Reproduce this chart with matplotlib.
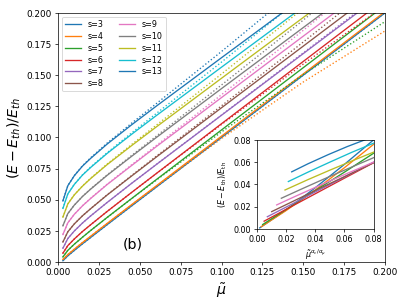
import numpy as np
import matplotlib
matplotlib.use("Agg")
import matplotlib.pyplot as plt

# s values shown in the legend
s_vals = [3, 4, 5, 6, 7, 8, 9, 10, 11, 12, 13]

# mu grid shared by all main-panel curves
mu = [0.003, 0.006, 0.01, 0.015, 0.02, 0.03, 0.045, 0.06, 0.1, 0.15, 0.2]

# solid curves (E-Eth)/Eth
y3 = [0.0010, 0.0049, 0.0093, 0.0146, 0.0197, 0.0299, 0.0450, 0.0600, 0.1000, 0.1500, 0.2000]
y4 = [0.0020, 0.0059, 0.0103, 0.0156, 0.0207, 0.0309, 0.0460, 0.0610, 0.1010, 0.1510, 0.2010]
y5 = [0.0040, 0.0093, 0.0143, 0.0199, 0.0253, 0.0357, 0.0509, 0.0660, 0.1060, 0.1560, 0.2060]
y6 = [0.0070, 0.0131, 0.0185, 0.0245, 0.0299, 0.0405, 0.0558, 0.0709, 0.1110, 0.1610, 0.2110]
y7 = [0.0110, 0.0188, 0.0249, 0.0313, 0.0370, 0.0477, 0.0631, 0.0781, 0.1178, 0.1673, 0.2168]
y8 = [0.0160, 0.0242, 0.0306, 0.0371, 0.0428, 0.0537, 0.0690, 0.0841, 0.1238, 0.1733, 0.2228]
y9 = [0.0220, 0.0314, 0.0383, 0.0451, 0.0510, 0.0621, 0.0774, 0.0925, 0.1320, 0.1813, 0.2305]
y10 = [0.0290, 0.0388, 0.0457, 0.0526, 0.0585, 0.0695, 0.0848, 0.0998, 0.1392, 0.1882, 0.2372]
y11 = [0.0360, 0.0466, 0.0539, 0.0609, 0.0670, 0.0781, 0.0934, 0.1083, 0.1475, 0.1963, 0.2450]
y12 = [0.0430, 0.0546, 0.0623, 0.0698, 0.0759, 0.0871, 0.1025, 0.1174, 0.1564, 0.2049, 0.2534]
y13 = [0.0490, 0.0612, 0.0693, 0.0770, 0.0832, 0.0946, 0.1101, 0.1250, 0.1640, 0.2125, 0.2610]
solid = [y3, y4, y5, y6, y7, y8, y9, y10, y11, y12, y13]

# gap between dotted (approximate) and solid curves
g3 = [0, 0, 0, 0, 0, 0, 0, 0, 0, 0, 0]
g4 = [0, 0, 0, 0, 0, -0.0001, -0.0002, -0.0004, -0.0019, -0.0065, -0.0155]
g5 = [0, 0, 0, 0, 0, -0.0001, -0.0001, -0.0004, -0.0016, -0.0055, -0.0130]
g6 = [0, 0, 0, 0, 0, 0, 0, -0.0001, -0.0006, -0.0021, -0.0050]
g7 = [0, 0, 0, 0, 0, 0, 0, 0.0001, 0.0002, 0.0006, 0.0013]
g8 = [0, 0, 0, 0, 0, 0.0002, 0.0004, 0.0007, 0.0016, 0.0033, 0.0059]
g9 = [0, 0, 0, 0.0001, 0.0002, 0.0003, 0.0006, 0.0009, 0.0023, 0.0047, 0.0083]
g10 = [0, 0, 0, 0.0001, 0.0002, 0.0004, 0.0007, 0.0011, 0.0029, 0.0060, 0.0107]
g11 = [0, 0, 0.0001, 0.0002, 0.0003, 0.0005, 0.0009, 0.0014, 0.0034, 0.0073, 0.0130]
g12 = [0, 0, 0.0001, 0.0002, 0.0004, 0.0006, 0.0011, 0.0017, 0.0041, 0.0086, 0.0154]
g13 = [0, 0, 0.0001, 0.0003, 0.0005, 0.0008, 0.0013, 0.0020, 0.0050, 0.0106, 0.0190]
gaps = [g3, g4, g5, g6, g7, g8, g9, g10, g11, g12, g13]

# inset: curves against mu^(alpha_c/alpha_mu)
ix3 = [0.002, 0.02, 0.04, 0.06, 0.08]
iy3 = [0.001, 0.017, 0.037, 0.058, 0.080]
ix4 = [0.003, 0.02, 0.04, 0.06, 0.08]
iy4 = [0.002, 0.0165, 0.035, 0.055, 0.076]
ix5 = [0.004, 0.02, 0.04, 0.06, 0.08]
iy5 = [0.004, 0.0175, 0.0345, 0.051, 0.068]
ix6 = [0.005, 0.02, 0.04, 0.06, 0.08]
iy6 = [0.007, 0.0176, 0.0316, 0.0456, 0.0595]
ix7 = [0.0072, 0.02, 0.04, 0.06, 0.08]
iy7 = [0.011, 0.0196, 0.0332, 0.0466, 0.060]
ix8 = [0.0102, 0.02, 0.04, 0.06, 0.08]
iy8 = [0.0156, 0.0218, 0.0345, 0.047, 0.0595]
ix9 = [0.0136, 0.025, 0.04, 0.06, 0.08]
iy9 = [0.0216, 0.0285, 0.0373, 0.0488, 0.060]
ix10 = [0.0168, 0.03, 0.045, 0.06, 0.08]
iy10 = [0.0276, 0.0355, 0.0443, 0.0528, 0.064]
ix11 = [0.0193, 0.035, 0.05, 0.065, 0.08]
iy11 = [0.035, 0.0443, 0.0528, 0.061, 0.069]
ix12 = [0.0216, 0.035, 0.05, 0.065, 0.08]
iy12 = [0.0426, 0.051, 0.060, 0.0688, 0.077]
ix13 = [0.0239, 0.035, 0.049, 0.062, 0.08]
iy13 = [0.0513, 0.0585, 0.0668, 0.074, 0.083]
inset_x = [ix3, ix4, ix5, ix6, ix7, ix8, ix9, ix10, ix11, ix12, ix13]
inset_y = [iy3, iy4, iy5, iy6, iy7, iy8, iy9, iy10, iy11, iy12, iy13]

colors = ['C0', 'C1', 'C2', 'C3', 'C4', 'C5', 'C6', 'C7', 'C8', 'C9', 'C0']

fig = plt.figure(figsize=(6.4, 4.8), dpi=407 / 6.4)
ax = fig.add_axes([0.1425, 0.141, 0.8035, 0.816])

mu_arr = np.array(mu)
for s, ys, gs, c in zip(s_vals, solid, gaps, colors):
    ax.plot(mu_arr, ys, '-', color=c, label='s=%d' % s)
    ax.plot(mu_arr, np.array(ys) + np.array(gs), ':', color=c)

ax.set_xlim(0, 0.2)
ax.set_ylim(0, 0.2)
ticks = np.arange(0, 0.2001, 0.025)
ax.set_xticks(ticks)
ax.set_yticks(ticks)
ax.set_xticklabels(['%.3f' % t for t in ticks])
ax.set_yticklabels(['%.3f' % t for t in ticks])
ax.set_xlabel(r'$\tilde{\mu}$', fontsize=16)
ax.set_ylabel(r'$(E-E_{th})/E_{th}$', fontsize=16)
ax.text(0.046, 0.014, '(b)', fontsize=16, ha='center', va='center')
ax.legend(loc='upper left', ncol=2, fontsize=9, labelspacing=0.35)

axin = fig.add_axes([0.631, 0.249, 0.287, 0.292])
for xs, ys, c in zip(inset_x, inset_y, colors):
    axin.plot(xs, ys, '-', color=c)
axin.set_xlim(0, 0.08)
axin.set_ylim(0, 0.08)
iticks = [0, 0.02, 0.04, 0.06, 0.08]
axin.set_xticks(iticks)
axin.set_yticks(iticks)
axin.set_xticklabels(['%.2f' % t for t in iticks], fontsize=9)
axin.set_yticklabels(['%.2f' % t for t in iticks], fontsize=9)
axin.set_xlabel(r'$\tilde{\mu}^{\alpha_c/\alpha_\mu}$', fontsize=9)
axin.set_ylabel(r'$(E-E_{\rm th})/E_{\rm th}$', fontsize=9)

fig.savefig('out.png', dpi=407 / 6.4)
